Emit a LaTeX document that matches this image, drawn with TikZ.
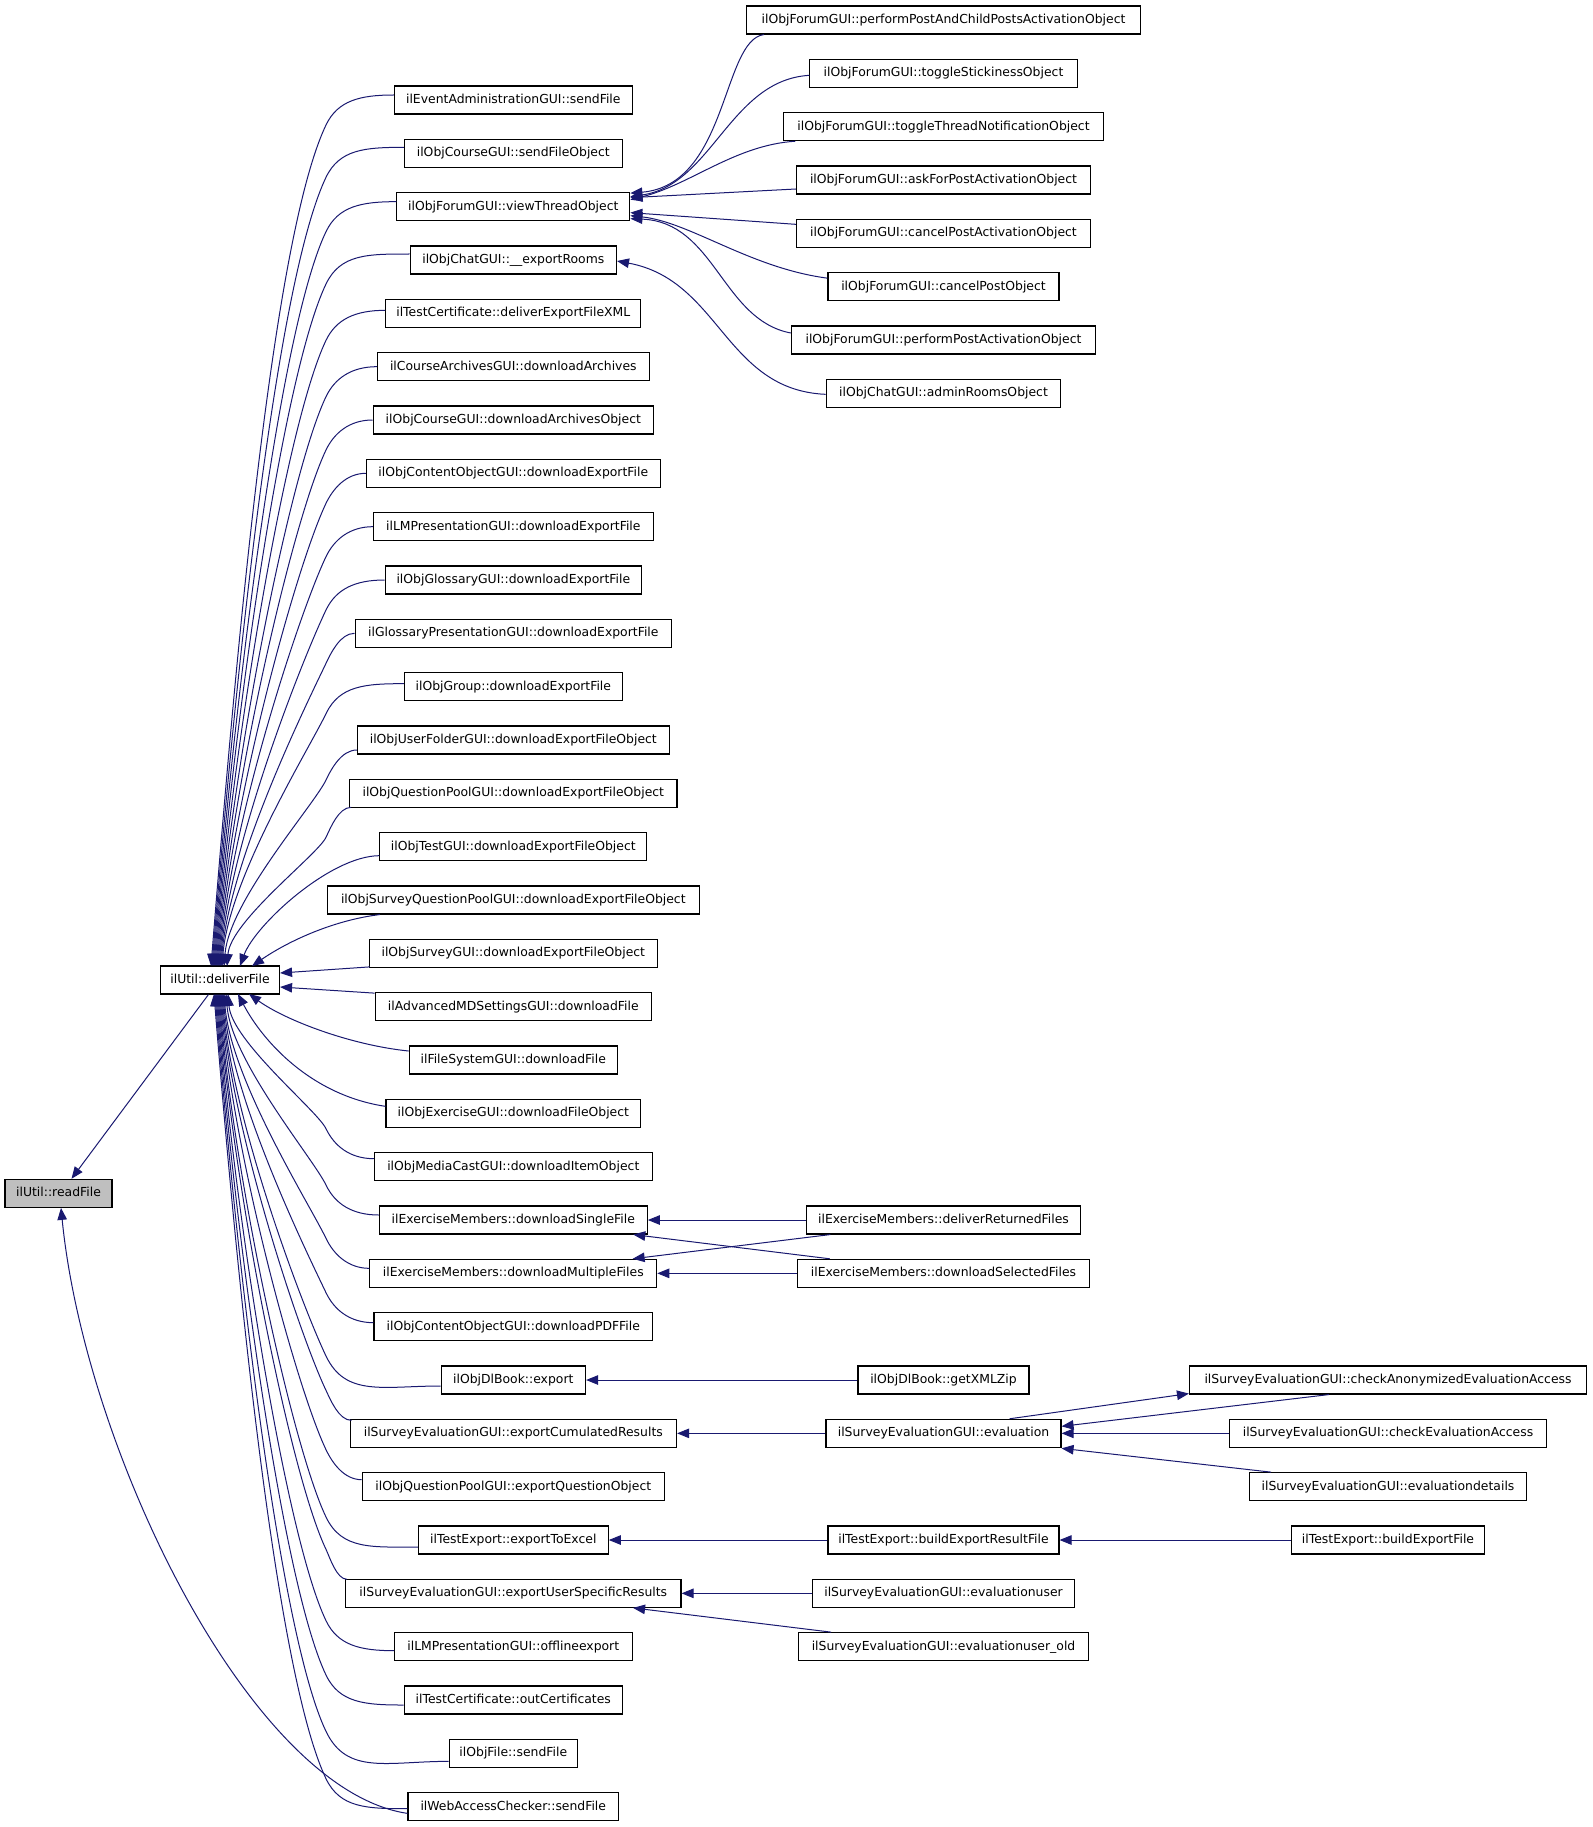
\documentclass[tikz,border=0pt]{standalone}
\usepackage{fontspec}
\setmainfont{DejaVu Sans}
\usetikzlibrary{arrows.meta,calc}
\definecolor{edgecol}{HTML}{191970}
\definecolor{rootfill}{HTML}{BFBFBF}
\tikzset{
  fnbox/.style={draw=black, fill=white, line width=1.1pt, minimum height=28pt, inner sep=0pt,
    text height=9.3pt, text depth=2.6pt, font=\fontsize{12.4pt}{14pt}\selectfont},
  calledge/.style={draw=edgecol, line width=1pt, >={Triangle[length=12pt,width=9.5pt]}, <-}
}
\newcommand\fanedge[6]{%
  \draw[calledge] let \p1=($(#1.west)+(#4,#5)$), \p2=(#2,#3),
     \n1={(#6)*(\y1-(#6)*30pt-\y2)}, \n2={0.4*(\x1-326pt)} in
   (\p2) .. controls ({\x2+0.028*\n1},{\y2+(#6)*0.35*\n1}) and ({326pt-0.0645*\n1},{\y1-(#6)*30pt-(#6)*0.135*\n1}) ..
   ({326pt},{\y1-(#6)*30pt}) .. controls ({326pt+0.43*\n2},{\y1-(#6)*30pt+(#6)*0.9*\n2}) and ({\x1-0.5*(\x1-326pt)},{\y1}) .. (\p1);
}
\begin{document}
\begin{tikzpicture}[x=1pt,y=-1pt]
\useasboundingbox (0,0) rectangle (1592,1827);
% left
\node[fnbox, fill=rootfill, minimum width=107pt] (rf) at (58.5,1193.33) {ilUtil::readFile};
\node[fnbox, minimum width=119pt] (df) at (220,980) {ilUtil::deliverFile};
% middle column
\node[fnbox, minimum width=237.8pt] (m1) at (513.3,100) {ilEventAdministrationGUI::sendFile};
\node[fnbox, minimum width=218pt] (m2) at (513.3,153.33) {ilObjCourseGUI::sendFileObject};
\node[fnbox, minimum width=233pt] (m3) at (513.3,206.67) {ilObjForumGUI::viewThreadObject};
\node[fnbox, minimum width=206.3pt] (m4) at (513.3,260) {ilObjChatGUI::\_\_exportRooms};
\node[fnbox, minimum width=255.2pt] (m5) at (513.3,313.33) {ilTestCertificate::deliverExportFileXML};
\node[fnbox, minimum width=271.6pt] (m6) at (513.3,366.67) {ilCourseArchivesGUI::downloadArchives};
\node[fnbox, minimum width=280.5pt] (m7) at (513.3,420) {ilObjCourseGUI::downloadArchivesObject};
\node[fnbox, minimum width=294pt] (m8) at (513.3,473.33) {ilObjContentObjectGUI::downloadExportFile};
\node[fnbox, minimum width=279.5pt] (m9) at (513.3,526.67) {ilLMPresentationGUI::downloadExportFile};
\node[fnbox, minimum width=256.4pt] (m10) at (513.3,580) {ilObjGlossaryGUI::downloadExportFile};
\node[fnbox, minimum width=316.5pt] (m11) at (513.3,633.33) {ilGlossaryPresentationGUI::downloadExportFile};
\node[fnbox, minimum width=218pt] (m12) at (513.3,686.67) {ilObjGroup::downloadExportFile};
\node[fnbox, minimum width=311.8pt] (m13) at (513.3,740) {ilObjUserFolderGUI::downloadExportFileObject};
\node[fnbox, minimum width=327.3pt] (m14) at (513.3,793.33) {ilObjQuestionPoolGUI::downloadExportFileObject};
\node[fnbox, minimum width=267pt] (m15) at (513.3,846.67) {ilObjTestGUI::downloadExportFileObject};
\node[fnbox, minimum width=371.7pt] (m16) at (513.3,900) {ilObjSurveyQuestionPoolGUI::downloadExportFileObject};
\node[fnbox, minimum width=287.9pt] (m17) at (513.3,953.33) {ilObjSurveyGUI::downloadExportFileObject};
\node[fnbox, minimum width=276.4pt] (m18) at (513.3,1006.67) {ilAdvancedMDSettingsGUI::downloadFile};
\node[fnbox, minimum width=208.3pt] (m19) at (513.3,1060) {ilFileSystemGUI::downloadFile};
\node[fnbox, minimum width=254.6pt] (m20) at (513.3,1113.33) {ilObjExerciseGUI::downloadFileObject};
\node[fnbox, minimum width=278pt] (m21) at (513.3,1166.67) {ilObjMediaCastGUI::downloadItemObject};
\node[fnbox, minimum width=268pt] (m22) at (513.3,1220) {ilExerciseMembers::downloadSingleFile};
\node[fnbox, minimum width=286.8pt] (m23) at (513.3,1273.33) {ilExerciseMembers::downloadMultipleFiles};
\node[fnbox, minimum width=278.6pt] (m24) at (513.3,1326.67) {ilObjContentObjectGUI::downloadPDFFile};
\node[fnbox, minimum width=144.5pt] (m25) at (513.3,1380) {ilObjDlBook::export};
\node[fnbox, minimum width=326.5pt] (m26) at (513.3,1433.33) {ilSurveyEvaluationGUI::exportCumulatedResults};
\node[fnbox, minimum width=302.3pt] (m27) at (513.3,1486.67) {ilObjQuestionPoolGUI::exportQuestionObject};
\node[fnbox, minimum width=189.9pt] (m28) at (513.3,1540) {ilTestExport::exportToExcel};
\node[fnbox, minimum width=335.4pt] (m29) at (513.3,1593.33) {ilSurveyEvaluationGUI::exportUserSpecificResults};
\node[fnbox, minimum width=237.5pt] (m30) at (513.3,1646.67) {ilLMPresentationGUI::offlineexport};
\node[fnbox, minimum width=218.4pt] (m31) at (513.3,1700) {ilTestCertificate::outCertificates};
\node[fnbox, minimum width=128.1pt] (m32) at (513.3,1753.33) {ilObjFile::sendFile};
\node[fnbox, minimum width=210.6pt] (m33) at (513.3,1806.67) {ilWebAccessChecker::sendFile};
% right column
\node[fnbox, minimum width=394pt] (r1) at (943.5,20) {ilObjForumGUI::performPostAndChildPostsActivationObject};
\node[fnbox, minimum width=267.2pt] (r2) at (943.5,73.33) {ilObjForumGUI::toggleStickinessObject};
\node[fnbox, minimum width=319.2pt] (r3) at (943.5,126.67) {ilObjForumGUI::toggleThreadNotificationObject};
\node[fnbox, minimum width=294.2pt] (r4) at (943.5,180) {ilObjForumGUI::askForPostActivationObject};
\node[fnbox, minimum width=294.2pt] (r5) at (943.5,233.33) {ilObjForumGUI::cancelPostActivationObject};
\node[fnbox, minimum width=231pt] (r6) at (943.5,286.67) {ilObjForumGUI::cancelPostObject};
\node[fnbox, minimum width=304.3pt] (r7) at (943.5,340) {ilObjForumGUI::performPostActivationObject};
\node[fnbox, minimum width=234.6pt] (r8) at (943.5,393.33) {ilObjChatGUI::adminRoomsObject};
\node[fnbox, minimum width=274.8pt] (drf) at (943.5,1220) {ilExerciseMembers::deliverReturnedFiles};
\node[fnbox, minimum width=292.4pt] (dsel) at (943.5,1273.33) {ilExerciseMembers::downloadSelectedFiles};
\node[fnbox, minimum width=171pt] (xml) at (943.5,1380) {ilObjDlBook::getXMLZip};
\node[fnbox, minimum width=235pt] (ev) at (943.5,1433.33) {ilSurveyEvaluationGUI::evaluation};
\node[fnbox, minimum width=231pt] (berf) at (943.5,1540) {ilTestExport::buildExportResultFile};
\node[fnbox, minimum width=262.6pt] (eu) at (943.5,1593.33) {ilSurveyEvaluationGUI::evaluationuser};
\node[fnbox, minimum width=289.8pt] (euo) at (943.5,1646.67) {ilSurveyEvaluationGUI::evaluationuser\_old};
% far right
\node[fnbox, minimum width=397pt] (ca) at (1388,1380) {ilSurveyEvaluationGUI::checkAnonymizedEvaluationAccess};
\node[fnbox, minimum width=317.6pt] (cea) at (1388,1433.33) {ilSurveyEvaluationGUI::checkEvaluationAccess};
\node[fnbox, minimum width=277pt] (ed) at (1388,1486.67) {ilSurveyEvaluationGUI::evaluationdetails};
\node[fnbox, minimum width=193.4pt] (bef) at (1388,1540) {ilTestExport::buildExportFile};

% edges into deliverFile (fan)
\fanedge{m1}{211}{966}{0}{-5}{1}
\fanedge{m2}{212}{966}{0}{-6}{1}
\fanedge{m3}{213}{966}{0}{-5}{1}
\fanedge{m4}{214}{966}{0}{-6}{1}
\fanedge{m5}{215}{966}{0}{-3}{1}
\fanedge{m6}{216}{966}{0}{0}{1}
\fanedge{m7}{217}{966}{0}{0}{1}
\fanedge{m8}{218}{966}{0}{0}{1}
\fanedge{m9}{219}{966}{0}{0}{1}
\fanedge{m10}{220}{966}{0}{0}{1}
\fanedge{m11}{221}{966}{0}{0}{1}
\fanedge{m12}{222}{966}{0}{-3}{1}
\fanedge{m13}{224}{966}{0}{10}{1}
\fanedge{m14}{227}{966}{2}{14}{1}
\draw[calledge] (240,966) .. controls (255,925) and (330,856) .. ($(m15.west)+(0,9)$);
\draw[calledge] (252,966) .. controls (290,940) and (335,920) .. ($(m16.south west)+(53,0)$);
\draw[calledge] ($(df.east)+(0,-7)$) -- ($(m17.south west)+(1,-1)$);
\draw[calledge] ($(df.east)+(0,7)$) -- ($(m18.north west)+(0,1)$);
\draw[calledge] (249,994) .. controls (285,1020) and (350,1045) .. ($(m19.west)+(0,-9)$);
\draw[calledge] (238,994) .. controls (262,1040) and (310,1095) .. ($(m20.west)+(0,-7)$);
\fanedge{m21}{228}{994}{0}{-8}{-1}
\fanedge{m22}{226}{994}{0}{-5}{-1}
\fanedge{m23}{224}{994}{0}{-5}{-1}
\fanedge{m24}{223}{994}{0}{-4}{-1}
\fanedge{m25}{222}{994}{0}{6}{-1}
\fanedge{m26}{221}{994}{2}{-13}{-1}
\fanedge{m27}{220}{994}{0}{-7}{-1}
\fanedge{m28}{219}{994}{0}{7}{-1}
\fanedge{m29}{218}{994}{2}{-14}{-1}
\fanedge{m30}{217}{994}{0}{4}{-1}
\fanedge{m31}{216}{994}{0}{5}{-1}
\fanedge{m32}{215}{994}{0}{8}{-1}
\fanedge{m33}{214}{994}{0}{2}{-1}

% edges into readFile
\draw[calledge] ($(rf.north)+(13,0)$) -- ($(df.south west)+(48.5,0)$);
\draw[calledge] ($(rf.south)+(2.5,0)$) .. controls (85,1450) and (250,1790) .. ($(m33.west)+(0,6.7)$);

% forum edges into viewThreadObject
\draw[calledge] ($(m3.east)+(0,-13.5)$) .. controls (728,185) and (722,40) .. ($(r1.south west)+(18,0)$);
\draw[calledge] ($(m3.east)+(0,-10)$) .. controls (712,185) and (730,80) .. ($(r2.west)+(0,2)$);
\draw[calledge] ($(m3.east)+(0,-7)$) .. controls (690,185) and (735,145) .. ($(r3.south west)+(12,0)$);
\draw[calledge] ($(m3.east)+(0,-9)$) -- ($(r4.west)+(0,9)$);
\draw[calledge] ($(m3.east)+(0,6)$) -- ($(r5.west)+(0,-9)$);
\draw[calledge] ($(m3.east)+(0,9)$) .. controls (690,222) and (750,268) .. ($(r6.west)+(0,-8.5)$);
\draw[calledge] ($(m3.east)+(0,12)$) .. controls (715,222) and (722,320) .. ($(r7.west)+(0,-7)$);
\draw[calledge] ($(m4.east)+(0,1)$) .. controls (720,280) and (725,390) .. ($(r8.west)+(0,1)$);

% lower right edges
\draw[calledge] (m22.east) -- (drf.west);
\draw[calledge] ($(m22.south east)+(-14.6,0)$) -- ($(dsel.north west)+(33,0)$);
\draw[calledge] ($(m23.north east)+(-24.6,0)$) -- ($(drf.south west)+(24.8,0)$);
\draw[calledge] (m23.east) -- (dsel.west);
\draw[calledge] (m25.east) -- (xml.west);
\draw[calledge] (m26.east) -- (ev.west);
\draw[calledge] ($(ca.south west)+(0,-1)$) -- ($(ev.north east)+(-52,0)$);
\draw[calledge] ($(ev.east)+(0,-7)$) -- ($(ca.south west)+(140,0)$);
\draw[calledge] (ev.east) -- (cea.west);
\draw[calledge] ($(ev.east)+(0,15)$) -- ($(ed.north west)+(22,0)$);
\draw[calledge] (m28.east) -- (berf.west);
\draw[calledge] (berf.east) -- (bef.west);
\draw[calledge] (m29.east) -- (eu.west);
\draw[calledge] ($(m29.south east)+(-48.5,0)$) -- ($(euo.north west)+(33,0)$);
\end{tikzpicture}
\end{document}
